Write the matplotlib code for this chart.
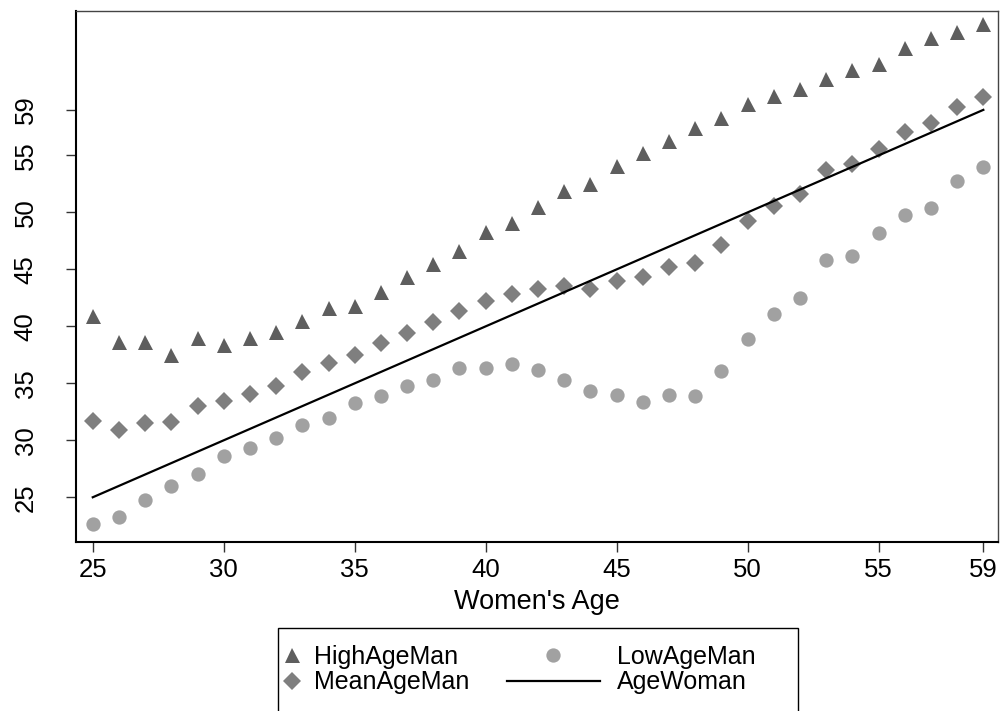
import matplotlib
matplotlib.use('Agg')
import matplotlib.pyplot as plt
from matplotlib.patches import Rectangle
import numpy as np

plt.rcParams['font.family'] = ['Liberation Sans', 'DejaVu Sans']

# women's age 25..59
age_woman = list(range(25, 60))

high_age_man = [40.9, 38.6, 38.6, 37.45, 39.0, 38.4, 39.0, 39.5, 40.5, 41.65,
                41.8, 43.05, 44.3, 45.5, 46.6, 48.26, 49.05, 50.46, 51.9, 52.45,
                54.07, 55.25, 56.24, 57.45, 58.33, 59.54, 60.2, 60.86, 61.7, 62.47,
                63.03, 64.4, 65.35, 65.8, 66.55]

mean_age_man = [31.66, 30.87, 31.52, 31.6, 32.98, 33.42, 34.1, 34.74, 35.98, 36.8,
                37.45, 38.5, 39.39, 40.38, 41.35, 42.23, 42.85, 43.26, 43.58, 43.32,
                44.0, 44.3, 45.17, 45.6, 47.17, 49.28, 50.6, 51.63, 53.69, 54.28,
                55.54, 57.07, 57.86, 59.27, 60.15]

low_age_man = [22.62, 23.29, 24.76, 26.0, 27.0, 28.58, 29.3, 30.16, 31.37, 32.0,
               33.28, 33.92, 34.74, 35.33, 36.36, 36.36, 36.74, 36.13, 35.33, 34.37,
               33.95, 33.33, 34.0, 33.86, 36.07, 38.92, 41.12, 42.53, 45.82, 46.2,
               48.2, 49.81, 50.37, 52.8, 53.98]

ticks = [25, 30, 35, 40, 45, 50, 55, 59]

fig = plt.figure(figsize=(10, 7.11), dpi=100)
ax = fig.add_axes([0.076, 0.2381, 0.922, 0.7468])

h_high, = ax.plot(age_woman, high_age_man, linestyle='none', marker='^', ms=10.8,
                  mew=0, color='#5e5e5e', label='HighAgeMan')
h_mean, = ax.plot(age_woman, mean_age_man, linestyle='none', marker='D', ms=9.3,
                  mew=0, color='#7f7f7f', label='MeanAgeMan')
h_low, = ax.plot(age_woman, low_age_man, linestyle='none', marker='o', ms=10.3,
                 mew=0, color='#a1a1a1', label='LowAgeMan')
h_line, = ax.plot(age_woman, age_woman, color='black', lw=1.6, label='AgeWoman')

ax.set_xlim(24.36, 59.56)
ax.set_ylim(21.1, 67.7)
ax.set_xticks(ticks)
ax.set_yticks(ticks)
ax.tick_params(axis='both', labelsize=18.5, length=7.5, width=1, color='#333333')
ax.tick_params(axis='x', pad=4)
ax.tick_params(axis='y', pad=20)
for lab in ax.get_yticklabels():
    lab.set_rotation(90)
    lab.set_va('center')
for side in ['left', 'bottom']:
    ax.spines[side].set_linewidth(1.5)
for side in ['top', 'right']:
    ax.spines[side].set_linewidth(1.0)
    ax.spines[side].set_color('#444444')

ax.set_xlabel("Women's Age", fontsize=19.5, labelpad=5)

# legend: two columns with different key widths, inside one frame
top = 1 - 645 / 711
fig.legend(handles=[h_high, h_mean], loc='upper left',
           bbox_to_anchor=(0.2817, top), frameon=False,
           fontsize=18, handlelength=0.8, handletextpad=0.5,
           borderpad=0, borderaxespad=0, labelspacing=0.05)
fig.legend(handles=[h_low, h_line], loc='upper left',
           bbox_to_anchor=(0.507, top), frameon=False,
           fontsize=18, handlelength=3.7, handletextpad=0.7,
           borderpad=0, borderaxespad=0, labelspacing=0.05)
fig.patches.append(Rectangle((0.2777, -0.02), 0.5203, 0.02 + 1 - 628 / 711,
                             transform=fig.transFigure, fill=False,
                             edgecolor='black', lw=1.0))

fig.savefig('out.png', dpi=100)
